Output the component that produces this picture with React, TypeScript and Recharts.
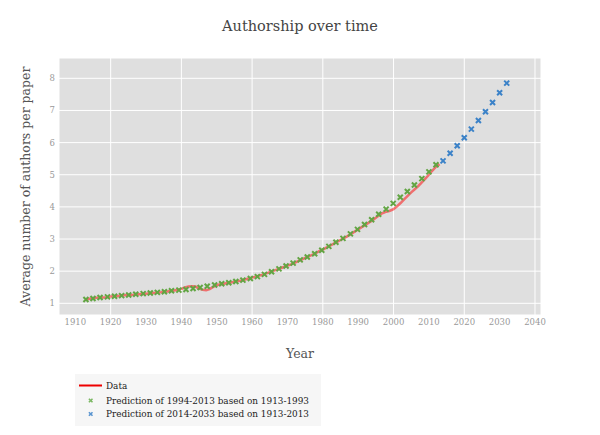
import { ComposedChart, Line, Scatter, XAxis, YAxis, CartesianGrid } from "recharts";

// observed yearly average, 1913-2013
const dataStartYear = 1913;
const dataValues = [
  1.12, 1.14, 1.16, 1.17, 1.18, 1.18, 1.19, 1.21, 1.22, 1.23,
  1.24, 1.25, 1.26, 1.26, 1.27, 1.28, 1.29, 1.3, 1.31, 1.32,
  1.33, 1.34, 1.35, 1.37, 1.38, 1.4, 1.42, 1.45, 1.49, 1.52,
  1.53, 1.52, 1.46, 1.42, 1.41, 1.44, 1.51, 1.56, 1.59, 1.61,
  1.63, 1.65, 1.67, 1.69, 1.71, 1.74, 1.77, 1.8, 1.83, 1.86,
  1.89, 1.93, 1.97, 2.01, 2.05, 2.09, 2.13, 2.17, 2.21, 2.26,
  2.31, 2.36, 2.41, 2.46, 2.51, 2.56, 2.62, 2.67, 2.73, 2.79,
  2.85, 2.91, 2.97, 3.03, 3.09, 3.16, 3.23, 3.3, 3.37, 3.44,
  3.51, 3.58, 3.66, 3.75, 3.81, 3.85, 3.88, 3.93, 4.02, 4.12,
  4.23, 4.34, 4.45, 4.55, 4.65, 4.76, 4.88, 5.0, 5.13, 5.25,
  5.33,
];

// fit on 1913-1993
const fitYears = [
  1913.0, 1915.0, 1917.0, 1919.1, 1921.1, 1923.1, 1925.1, 1927.1, 1929.2, 1931.2,
  1933.2, 1935.2, 1937.2, 1939.3, 1941.3, 1943.3, 1945.3, 1947.3, 1949.4, 1951.4,
  1953.4, 1955.4, 1957.4, 1959.5, 1961.5, 1963.5, 1965.5, 1967.6, 1969.6, 1971.6,
  1973.6, 1975.6, 1977.7, 1979.7, 1981.7, 1983.7, 1985.7, 1987.8, 1989.8, 1991.8,
  1993.8, 1995.8, 1997.9, 1999.9, 2001.9, 2003.9, 2005.9, 2008.0, 2010.0, 2012.0,
];
const fitValues = [
  1.12, 1.15, 1.18, 1.2, 1.22, 1.24, 1.26, 1.28, 1.3, 1.32,
  1.34, 1.36, 1.39, 1.41, 1.43, 1.46, 1.49, 1.53, 1.57, 1.61,
  1.64, 1.68, 1.72, 1.77, 1.83, 1.9, 1.98, 2.07, 2.16, 2.25,
  2.35, 2.44, 2.54, 2.65, 2.77, 2.9, 3.02, 3.16, 3.3, 3.45,
  3.6, 3.77, 3.93, 4.11, 4.3, 4.48, 4.68, 4.88, 5.09, 5.31,
];

// fit on 1913-2013
const forecastYears = [2014, 2016, 2018, 2020, 2022, 2024, 2026, 2028, 2030, 2032];
const forecastValues = [5.43, 5.67, 5.9, 6.15, 6.42, 6.69, 6.96, 7.25, 7.55, 7.85];

const xTicks = [1910, 1920, 1930, 1940, 1950, 1960, 1970, 1980, 1990, 2000, 2010, 2020, 2030, 2040];
const yTicks = [1, 2, 3, 4, 5, 6, 7, 8];

const dataSeries = dataValues.map((value, i) => ({ year: dataStartYear + i, value }));
const fitSeries = fitYears.map((year, i) => ({ year, value: fitValues[i] }));
const forecastSeries = forecastYears.map((year, i) => ({ year, value: forecastValues[i] }));

const GREEN = "#62a543";
const BLUE = "#3b82c8";
const FONT = "DejaVu Serif";

function XMark({ cx, cy, color, r = 2.5, w = 2 }: { cx: number; cy: number; color: string; r?: number; w?: number }) {
  if (cx == null || cy == null) return null;
  return (
    <path
      d={`M${cx - r},${cy - r}L${cx + r},${cy + r}M${cx - r},${cy + r}L${cx + r},${cy - r}`}
      stroke={color}
      strokeWidth={w}
      fill="none"
    />
  );
}

const tickStyle = { fill: "#999", fontSize: 8.5, fontFamily: FONT };

export default function App() {
  return (
    <div style={{ position: "relative", width: 600, height: 435, margin: -8, background: "#fff" }}>
      <ComposedChart width={600} height={435} margin={{ top: 58, right: 59, bottom: 90, left: 0 }}>
        <CartesianGrid stroke="#ffffff" strokeWidth={1} fill="#dfdfdf" fillOpacity={1} />
        <XAxis
          type="number"
          dataKey="year"
          domain={[1905.39, 2041.7]}
          ticks={xTicks}
          allowDataOverflow
          axisLine={false}
          tickLine={false}
          tickSize={0}
          tickMargin={4}
          height={30}
          tick={tickStyle}
        />
        <YAxis
          type="number"
          dataKey="value"
          domain={[0.636, 8.632]}
          ticks={yTicks}
          allowDataOverflow
          axisLine={false}
          tickLine={false}
          tickSize={0}
          tickMargin={4}
          width={59}
          tick={tickStyle}
        />
        <Line
          data={dataSeries}
          dataKey="value"
          type="linear"
          stroke="#ff0000"
          strokeOpacity={0.5}
          strokeWidth={2.5}
          dot={false}
          activeDot={false}
          isAnimationActive={false}
        />
        <Scatter
          data={fitSeries}
          dataKey="value"
          shape={(p: any) => <XMark cx={p.cx} cy={p.cy} color={GREEN} />}
          isAnimationActive={false}
        />
        <Scatter
          data={forecastSeries}
          dataKey="value"
          shape={(p: any) => <XMark cx={p.cx} cy={p.cy} color={BLUE} />}
          isAnimationActive={false}
        />
      </ComposedChart>

      <svg
        width={600}
        height={435}
        style={{ position: "absolute", left: 0, top: 0, pointerEvents: "none" }}
        fontFamily={FONT}
      >
        <text x={300} y={31} textAnchor="middle" fontSize={14.5} fill="#444">
          Authorship over time
        </text>
        <text transform="translate(30,186.5) rotate(-90)" textAnchor="middle" fontSize={12.5} fill="#555">
          Average number of authors per paper
        </text>
        <text x={300} y={358} textAnchor="middle" fontSize={12.5} fill="#555">
          Year
        </text>

        <rect x={75} y={374} width={246} height={52} fill="#f6f6f6" />
        <line x1={79} y1={385.5} x2={102} y2={385.5} stroke="#ee0000" strokeWidth={2} />
        <text x={106} y={389} fontSize={8.9} fill="#222">Data</text>
        <XMark cx={90.7} cy={400.5} color="#7cb864" r={1.8} w={1.6} />
        <text x={106} y={403.5} fontSize={8.9} fill="#222">Prediction of 1994-2013 based on 1913-1993</text>
        <XMark cx={90.7} cy={414} color="#5a95d0" r={1.8} w={1.6} />
        <text x={106} y={417} fontSize={8.9} fill="#222">Prediction of 2014-2033 based on 1913-2013</text>
      </svg>
    </div>
  );
}
